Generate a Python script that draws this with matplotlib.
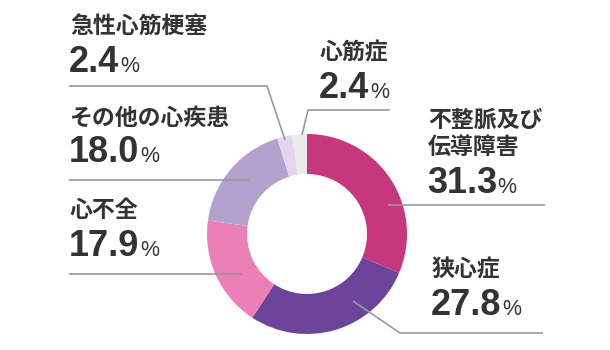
import matplotlib
matplotlib.use("Agg")
import matplotlib.pyplot as plt

labels = ["不整脈及び\n伝導障害", "狭心症", "心不全", "その他の心疾患", "急性心筋梗塞", "心筋症"]
values = [31.3, 27.8, 17.9, 18.0, 2.4, 2.4]
value_text = ["31.3", "27.8", "17.9", "18.0", "2.4", "2.4"]
colors = ["#c7377c", "#6c4499", "#ea80b5", "#b2a0cd", "#e3d7f0", "#ebebeb"]

W, H = 610, 350
fig = plt.figure(figsize=(W / 100, H / 100), dpi=100)
ax = fig.add_axes([0, 0, 1, 1])

def Y(y):
    return H - y

cx, cy, R = 307, 234, 100
ax.pie(values, colors=colors, center=(cx, Y(cy)), radius=R, startangle=90,
       counterclock=False, wedgeprops=dict(width=40, linewidth=0),
       frame=True)
ax.set_xlim(0, W)
ax.set_ylim(0, H)
ax.set_aspect("equal")
ax.axis("off")

line_c = "#999999"
# leader lines (pixel coords)
leaders = [
    [(388, 205), (545, 205)],                       # 不整脈
    [(353, 301), (400, 333), (543, 333)],           # 狭心症
    [(242, 274), (69, 274)],                        # 心不全
    [(249, 180), (69, 180)],                        # その他
    [(285, 140), (267, 86), (69, 86)],              # 急性心筋梗塞
    [(302, 135), (308, 110), (390, 110)],           # 心筋症
]
for pts in leaders:
    xs = [p[0] for p in pts]
    ys = [Y(p[1]) for p in pts]
    ax.plot(xs, ys, color=line_c, lw=1.2, solid_capstyle="butt")

jp = ["Noto Sans CJK JP", "DejaVu Sans"]
num_font = ["Liberation Sans", "DejaVu Sans"]
tc = "#333333"

# (x, first label line baseline y, number baseline y)
label_pos = [
    (428, 127, 193),
    (432, 276, 315),
    (70, 217, 256),
    (70, 125, 162),
    (70, 33, 72),
    (320, 59, 98),
]
line_step = 27

fig.canvas.draw()
renderer = fig.canvas.get_renderer()
for lab, vt, (x, ly, ny) in zip(labels, value_text, label_pos):
    for i, part in enumerate(lab.split("\n")):
        ax.text(x, Y(ly + i * line_step), part, family=jp, fontsize=16.5,
                fontweight="bold", color=tc, ha="left", va="baseline")
    t = ax.text(x - 1, Y(ny), vt, family=num_font, fontsize=26,
                fontweight="bold", color=tc, ha="left", va="baseline")
    bb = t.get_window_extent(renderer=renderer)
    x2 = ax.transData.inverted().transform((bb.x1, bb.y0))[0]
    ax.text(x2 + 0.5, Y(ny), "%", family=num_font, fontsize=15.5,
            color=tc, ha="left", va="baseline")

fig.savefig("out.png", dpi=100)
